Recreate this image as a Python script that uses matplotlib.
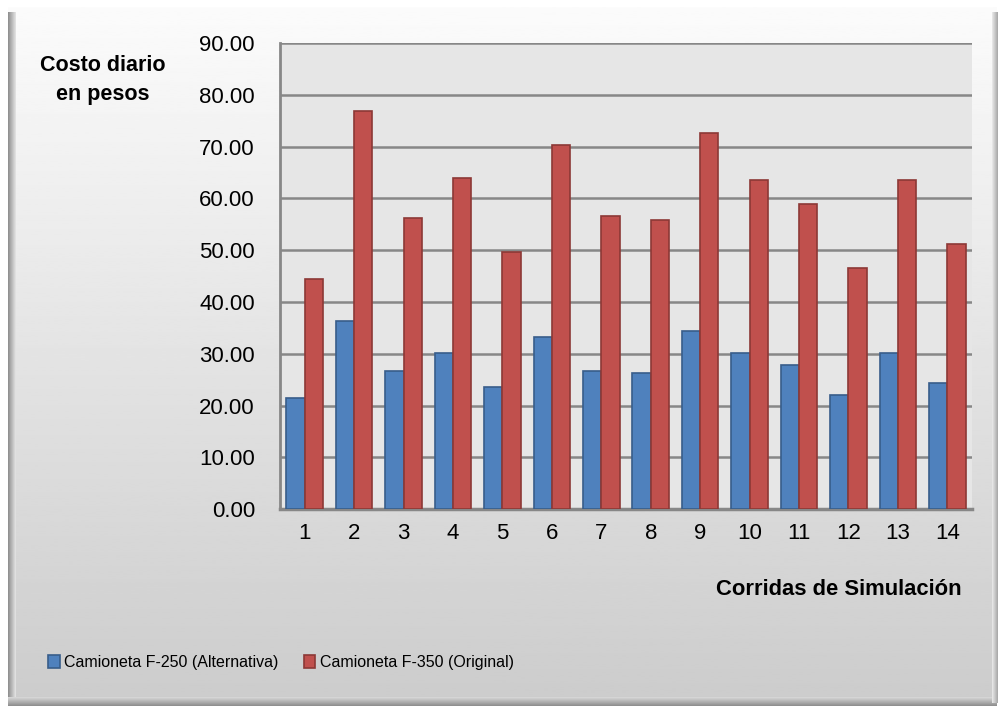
import numpy as np
import matplotlib
matplotlib.use("Agg")
import matplotlib.pyplot as plt

plt.rcParams['font.family'] = ['Liberation Sans', 'DejaVu Sans']

corridas = ['1', '2', '3', '4', '5', '6', '7', '8', '9', '10', '11', '12', '13', '14']
f250 = [21.4, 36.4, 26.7, 30.2, 23.6, 33.3, 26.7, 26.3, 34.4, 30.2, 27.9, 22.1, 30.2, 24.4]
f350 = [44.4, 76.9, 56.2, 63.9, 49.6, 70.4, 56.6, 55.8, 72.7, 63.5, 58.9, 46.5, 63.5, 51.2]
yticks = np.arange(0, 91, 10)

fig = plt.figure(figsize=(10, 7.08), dpi=100)
fig.patch.set_facecolor('white')

# background panel with vertical gradient and a bevel at left/bottom
bg = fig.add_axes([0, 0, 1, 1], zorder=-10)
bg.set_xlim(0, 1000)
bg.set_ylim(708, 0)
bg.axis('off')
grad = np.linspace(0.985, 0.80, 256).reshape(-1, 1)
bg.imshow(grad, cmap='gray', vmin=0, vmax=1, extent=[8, 997, 703, 7], aspect='auto')
lb = np.linspace(0.55, 0.9, 64).reshape(1, -1)
bg.imshow(lb, cmap='gray', vmin=0, vmax=1, extent=[8, 16, 703, 12], aspect='auto')
bb = np.linspace(0.85, 0.55, 64).reshape(-1, 1)
bg.imshow(bb, cmap='gray', vmin=0, vmax=1, extent=[8, 997, 706, 697], aspect='auto')
rb = np.linspace(0.92, 0.65, 64).reshape(1, -1)
bg.imshow(rb, cmap='gray', vmin=0, vmax=1, extent=[992, 998, 703, 12], aspect='auto')

ax = fig.add_axes([0.28, 0.281, 0.692, 0.658])
ax.set_facecolor('#e6e6e6')

x = np.arange(len(corridas))
w = 0.37
ax.bar(x - w / 2, f250, w, color='#4f81bd', edgecolor='#385d8a', linewidth=1.2,
       label='Camioneta F-250 (Alternativa)', zorder=3)
ax.bar(x + w / 2, f350, w, color='#c0504d', edgecolor='#8c3836', linewidth=1.2,
       label='Camioneta F-350 (Original)', zorder=3)

ax.set_xlim(-0.5, len(corridas) - 0.5)
ax.set_ylim(0, 90)
ax.set_yticks(yticks)
ax.set_yticklabels(['%.2f' % v for v in yticks])
ax.set_xticks(x)
ax.set_xticklabels(corridas)
ax.yaxis.grid(True, color='#878787', linewidth=1.8, zorder=1)
ax.set_axisbelow(True)
ax.tick_params(axis='both', length=0, labelsize=16)
ax.tick_params(axis='y', pad=18)
ax.tick_params(axis='x', pad=10)
for s in ['top', 'right']:
    ax.spines[s].set_visible(False)
ax.spines['left'].set_color('#878787')
ax.spines['left'].set_linewidth(2)
ax.spines['bottom'].set_color('#878787')
ax.spines['bottom'].set_linewidth(2.5)

fig.text(0.103, 0.887, 'Costo diario\nen pesos', ha='center', va='center',
         fontsize=15.5, fontweight='bold', linespacing=1.45)
fig.text(0.962, 0.167, 'Corridas de Simulación', ha='right', va='center',
         fontsize=15.8, fontweight='bold')

fig.legend(loc='center left', bbox_to_anchor=(0.034, 0.064), ncol=2, frameon=False,
           fontsize=11.5, handlelength=0.7, handleheight=0.9,
           handletextpad=0.3, columnspacing=1.6)

fig.savefig('out.png', dpi=100)
